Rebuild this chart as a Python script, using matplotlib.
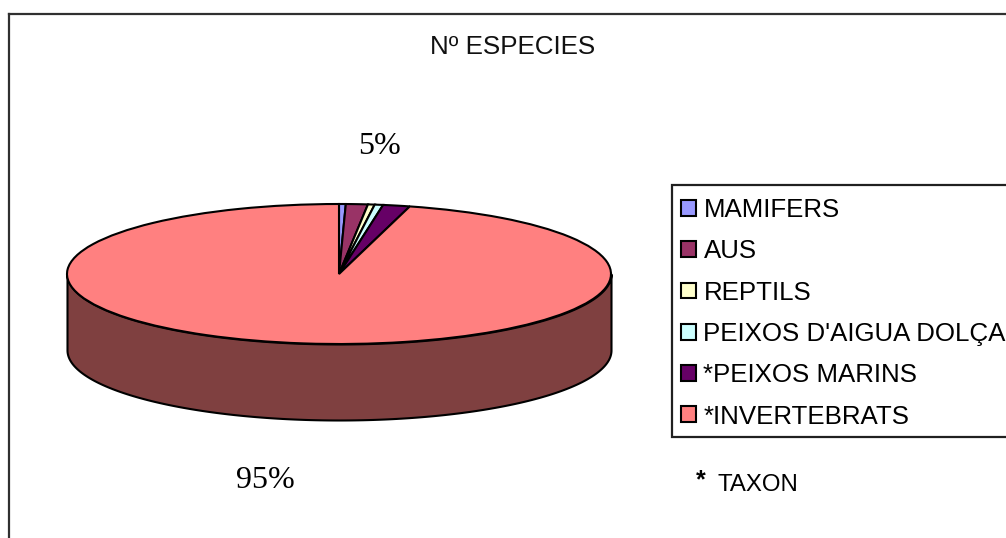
## N ESPECIES pie
import numpy as np
import matplotlib.pyplot as plt
from matplotlib.patches import Rectangle

W = 1006
H = 538

# data
taxa = ['MAMIFERS', 'AUS', 'REPTILS', "PEIXOS D'AIGUA DOLÇA", '*PEIXOS MARINS', '*INVERTEBRATS']
percent = [0.4, 1.3, 0.4, 0.5, 1.6, 96.0]
colors = ['#9999FF', '#993366', '#FFFFCC', '#CCFFFF', '#660066', '#FF8080']
side_color = '#7F4040'
label_small = '5%'
label_big = '95%'

plt.rcParams['font.family'] = ['Liberation Sans', 'DejaVu Sans']
fig = plt.figure(figsize=(W/100, H/100), dpi=100)

# outer chart frame, only left and top are visible in the crop
bg = fig.add_axes([9/W, -0.02, 1.02, 1-14/H+0.02])
bg.set_xticks([])
bg.set_yticks([])
for s in ['right', 'bottom']:
    bg.spines[s].set_visible(False)
for s in ['left', 'top']:
    bg.spines[s].set_linewidth(1.6)
    bg.spines[s].set_color('#303030')

# pie is squashed by giving it a wide flat axes
ax = fig.add_axes([67/W, (H-344)/H, 544/W, 140/H])
wedges, _ = ax.pie(percent, colors=colors, startangle=90, counterclock=False, radius=1,
                   wedgeprops={'edgecolor': 'black', 'linewidth': 1.5, 'clip_on': False, 'zorder': 3})
ax.set_aspect('auto')
ax.set_xlim(-1, 1)
ax.set_ylim(-1, 1)

# 3d side
depth = 76/70
t = np.linspace(np.pi, 2*np.pi, 200)
ax.fill_between(np.cos(t), np.sin(t)-depth, np.sin(t), color=side_color, ec='black', lw=1.5,
                clip_on=False, zorder=2)

# legend box runs past the right edge like in the original
box = Rectangle((672/W, 1-437/H), 360/W, 252/H, transform=fig.transFigure, fc='white', ec='#202020', lw=1.6)
fig.add_artist(box)
box.set_zorder(4)

leg = fig.legend(wedges, taxa, loc='upper left', bbox_to_anchor=(681/W, 1-198/H), borderaxespad=0,
                 fontsize=18.6, frameon=False, handlelength=0.57, handleheight=0.57,
                 handletextpad=0.3, labelspacing=0.67, borderpad=0)
leg.set_zorder(5)

fig.text(513/W, 1-47/H, 'Nº ESPECIES', ha='center', va='center', fontsize=18.7, color='#111111')
fig.text(379/W, 1-147/H, label_small, ha='center', va='center', fontsize=23, family='Liberation Serif')
fig.text(265/W, 1-481/H, label_big, ha='center', va='center', fontsize=23, family='Liberation Serif')
fig.text(701/W, 1-480/H, '*', ha='center', va='center', fontsize=18, weight='bold')
fig.text(718/W, 1-485/H, 'TAXON', ha='left', va='center', fontsize=17.3)

fig.savefig('out.png', dpi=100)
